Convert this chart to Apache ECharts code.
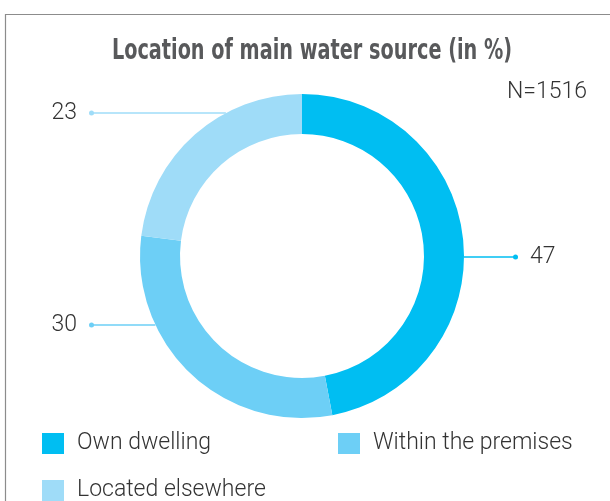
<!DOCTYPE html>
<html>
<head>
<meta charset="utf-8">
<script src="https://cdn.jsdelivr.net/npm/echarts@6/dist/echarts.min.js"></script>
<style>
  html, body { margin: 0; padding: 0; background: #fff; }
  #main { width: 610px; height: 501px; }
</style>
</head>
<body>
<div id="main"></div>
<script>
// data
var categories = ['Own dwelling', 'Within the premises', 'Located elsewhere'];
var shares = [47, 30, 23];
var sampleText = 'N=1516';
var titleText = 'Location of main water source (in %)';

var colors = ['#00bef2', '#6dcff6', '#9fdcf8'];

// layout of the ring and of its callouts
var CX = 302, CY = 256, R_IN = 122, R_OUT = 162;
var labelY = [257, 325, 113];
var labelSide = [1, -1, -1];
var DOT_RIGHT_X = 515.5, DOT_LEFT_X = 91.5;

var FONT = 'Roboto, "Liberation Sans", sans-serif';

function drawPie(chart) {
    var rich = {
        v: { fontSize: 23, fontFamily: FONT, fontWeight: 300, color: '#333' },
        gap: { width: 12 }
    };
    colors.forEach(function (c, i) {
        rich['dot' + i] = { width: 5, height: 5, borderRadius: 2.5, backgroundColor: c };
    });

    var option = {
        backgroundColor: '#fff',
        animation: false,
        color: colors,
        title: [{
            text: sampleText,
            left: 587,
            top: 92.5,
            padding: 0,
            textAlign: 'right',
            textVerticalAlign: 'middle',
            textStyle: { fontFamily: FONT, fontWeight: 300, fontSize: 23, color: '#333' }
        }],
        graphic: [{
            type: 'rect',
            shape: { x: 5.5, y: 14.5, width: 700, height: 600 },
            style: { fill: 'none', stroke: '#8c8c8c', lineWidth: 1.2 },
            silent: true
        }, {
            // condensed bold heading
            type: 'text',
            x: 312,
            y: 51.5,
            scaleX: 0.765,
            silent: true,
            style: {
                text: titleText,
                font: 'bold 28px "DejaVu Sans Condensed", "DejaVu Sans", sans-serif',
                fill: '#58595b',
                align: 'center',
                verticalAlign: 'middle'
            }
        }],
        legend: {
            left: 42,
            top: 432,
            width: 575,
            padding: 0,
            itemWidth: 22,
            itemHeight: 21,
            itemGap: 24,
            icon: 'rect',
            selectedMode: false,
            data: categories,
            textStyle: {
                fontFamily: FONT,
                fontWeight: 300,
                fontSize: 23,
                color: '#333',
                width: 237,
                lineHeight: 19,
                padding: [0, 0, 0, 8]
            }
        },
        series: [{
            type: 'pie',
            center: [CX, CY],
            radius: [R_IN, R_OUT],
            startAngle: 90,
            clockwise: true,
            silent: true,
            data: categories.map(function (name, i) {
                return { name: name, value: shares[i] };
            }),
            label: {
                show: true,
                position: 'outside',
                formatter: function (p) {
                    var i = p.dataIndex;
                    return labelSide[i] > 0
                        ? '{dot' + i + '|}{gap|}{v|' + p.value + '}'
                        : '{v|' + p.value + '}{gap|}{dot' + i + '|}';
                },
                rich: rich
            },
            labelLine: {
                show: true,
                length: 0,
                length2: 10,
                lineStyle: { width: 1.5 }
            },
            labelLayout: function (params) {
                var i = params.dataIndex;
                var y = labelY[i];
                var side = labelSide[i];
                var dy = y - CY;
                var edgeX = CX + side * Math.sqrt(R_OUT * R_OUT - dy * dy);
                var dotX = side > 0 ? DOT_RIGHT_X : DOT_LEFT_X;
                return {
                    x: side > 0 ? dotX - 2.5 : dotX + 2.5,
                    y: y,
                    align: side > 0 ? 'left' : 'right',
                    verticalAlign: 'middle',
                    labelLinePoints: [[edgeX, y], [edgeX, y], [dotX, y]]
                };
            }
        }]
    };
    chart.setOption(option);
}

window.addEventListener('load', function () {
    var chart = echarts.init(document.getElementById('main'));
    drawPie(chart);
});
</script>
</body>
</html>
